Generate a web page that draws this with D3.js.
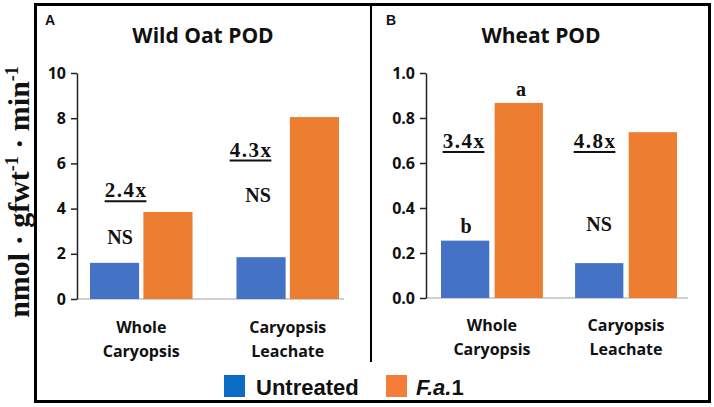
<!DOCTYPE html>
<html><head><meta charset="utf-8">
<script src="https://cdn.jsdelivr.net/npm/d3@7"></script>
<style>body{margin:0;background:#fff}svg{display:block}</style>
</head><body>
<svg id="c" width="714" height="407"></svg>
<script>
const categories = [["Whole","Caryopsis"],["Caryopsis","Leachate"]];
const series = ["Untreated","F.a.1"];
const wildOatValues = [[1.6, 3.85],[1.85, 8.05]];
const wheatValues = [[0.255, 0.867],[0.155, 0.737]];
const wildOatTicks = [0,2,4,6,8,10];
const wheatTicks = [0,0.2,0.4,0.6,0.8,1.0];
const wildOatFold = ["2.4x","4.3x"];
const wheatFold = ["3.4x","4.8x"];
const wildOatSig = [["NS"],["NS"]];
const wheatSig = [["b","a"],["NS"]];

const barColors = ["#4472C4","#ED7D31"];
const legendColors = ["#0a6cc4","#f47d3a"];
const svg = d3.select("#c");

// outer frame & divider
svg.append("rect").attr("x",35.5).attr("y",4.5).attr("width",674).attr("height",397)
  .attr("fill","none").attr("stroke","#000").attr("stroke-width",3);
svg.append("line").attr("x1",371).attr("x2",371).attr("y1",4).attr("y2",362)
  .attr("stroke","#000").attr("stroke-width",2);

// y label
svg.append("text").attr("transform","translate(29,192) rotate(-90)")
  .attr("text-anchor","middle").attr("font-family","Liberation Serif, Times New Roman, serif")
  .attr("font-weight","bold").attr("font-size",30).attr("fill","#111")
  .html('nmol \u00b7 gfwt<tspan dy="-11" font-size="18">-1</tspan><tspan dy="11"> \u00b7 min</tspan><tspan dy="-11" font-size="18">-1</tspan>');

function panel(opt){
  const y = d3.scaleLinear().domain([0, opt.max]).range([opt.y0, 73]);
  const x0 = d3.scaleBand().domain([0,1]).range(opt.xr).paddingInner(opt.pin).paddingOuter(0);
  const x1 = d3.scaleBand().domain([0,1]).range([0, x0.bandwidth()]).paddingInner(opt.gap);
  const g = svg.append("g");
  // baseline
  g.append("line").attr("x1",opt.axisX).attr("x2",opt.baseEnd).attr("y1",y(0)).attr("y2",y(0))
    .attr("stroke","#d0d0d0").attr("stroke-width",2);
  // axis
  const ax = g.append("g").attr("transform",`translate(${opt.axisX},0)`)
    .call(d3.axisLeft(y).tickValues(opt.ticks).tickFormat(opt.fmt).tickSize(6).tickSizeOuter(0));
  ax.select(".domain").attr("stroke","#222").attr("stroke-width",1.5);
  ax.selectAll(".tick line").attr("stroke","#222").attr("stroke-width",1.5);
  ax.selectAll(".tick text").attr("font-family","Open Sans, sans-serif").attr("font-weight","bold")
    .attr("font-size",16).attr("fill","#111").attr("x",-11);
  // bars
  opt.values.forEach((vals,i)=>{
    vals.forEach((v,j)=>{
      g.append("rect").attr("x",x0(i)+x1(j)).attr("width",x1.bandwidth())
        .attr("y",y(v)).attr("height",y(0)-y(v)).attr("fill",barColors[j]);
    });
    const cx = x0(i)+x0.bandwidth()/2;
    const t = g.append("text").attr("x",cx).attr("text-anchor","middle")
      .attr("font-family","Open Sans, sans-serif").attr("font-weight","bold").attr("font-size",16).attr("fill","#111");
    t.append("tspan").attr("x",cx).attr("y",opt.catY).text(categories[i][0]);
    t.append("tspan").attr("x",cx).attr("y",opt.catY+24).text(categories[i][1]);
  });
  // title + letter
  svg.append("text").attr("x",opt.titleX).attr("y",43).attr("text-anchor","middle")
    .attr("font-family","Open Sans, sans-serif").attr("font-weight","bold").attr("font-size",21).attr("fill","#111").text(opt.title);
  svg.append("text").attr("x",opt.letterX).attr("y",25)
    .attr("font-family","Liberation Sans, Arial, sans-serif").attr("font-weight","bold").attr("font-size",14).attr("fill","#111").text(opt.letter);
  // annotations
  opt.annos.forEach(a=>{
    const t = svg.append("text").attr("x",a.x).attr("y",y(a.v)).attr("text-anchor","middle")
      .attr("font-family","Liberation Serif, Times New Roman, serif").attr("font-weight","bold")
      .attr("font-size",a.u?21:20).attr("letter-spacing",a.u?1.5:0).attr("fill","#111").text(a.t);
    if(a.u){
      const bb = t.node().getBBox();
      svg.append("line").attr("x1",bb.x).attr("x2",bb.x+bb.width-1).attr("y1",y(a.v)+4).attr("y2",y(a.v)+4)
        .attr("stroke","#111").attr("stroke-width",2);
    }
  });
}

panel({max:10, y0:299, xr:[90,339], pin:0.30, gap:0.08, axisX:77, baseEnd:344, ticks:wildOatTicks,
  fmt:d3.format("d"), values:wildOatValues, catY:333, title:"Wild Oat POD", titleX:203, letter:"A", letterX:45,
  annos:[{x:126,v:4.5,t:wildOatFold[0],u:true},{x:251,v:6.3,t:wildOatFold[1],u:true},
         {x:120,v:2.45,t:wildOatSig[0][0]},{x:258,v:4.3,t:wildOatSig[1][0]}]});
panel({max:1.0, y0:298, xr:[441,677], pin:0.24, gap:0.1, axisX:426, baseEnd:688, ticks:wheatTicks,
  fmt:d3.format(".1f"), values:wheatValues, catY:331, title:"Wheat POD", titleX:541, letter:"B", letterX:386,
  annos:[{x:464,v:0.667,t:wheatFold[0],u:true},{x:595,v:0.667,t:wheatFold[1],u:true},
         {x:521,v:0.9,t:wheatSig[0][1]},{x:466,v:0.29,t:wheatSig[0][0]},{x:599,v:0.3,t:wheatSig[1][0]}]});

// legend
const lg = svg.append("g");
[[224,0],[386,1]].forEach(([lx,i])=>{
  lg.append("rect").attr("x",lx).attr("y",375).attr("width",21).attr("height",22).attr("fill",legendColors[i]);
});
lg.append("text").attr("x",256).attr("y",395).attr("font-family","Liberation Sans, Arial, sans-serif")
  .attr("font-weight","bold").attr("font-size",22).attr("fill","#111").text(series[0]);
const ft = lg.append("text").attr("x",416).attr("y",395).attr("font-family","Liberation Sans, Arial, sans-serif")
  .attr("font-weight","bold").attr("font-size",22).attr("fill","#111");
ft.append("tspan").attr("font-style","italic").text("F.a.");
ft.append("tspan").text("1");
</script>
</body></html>
